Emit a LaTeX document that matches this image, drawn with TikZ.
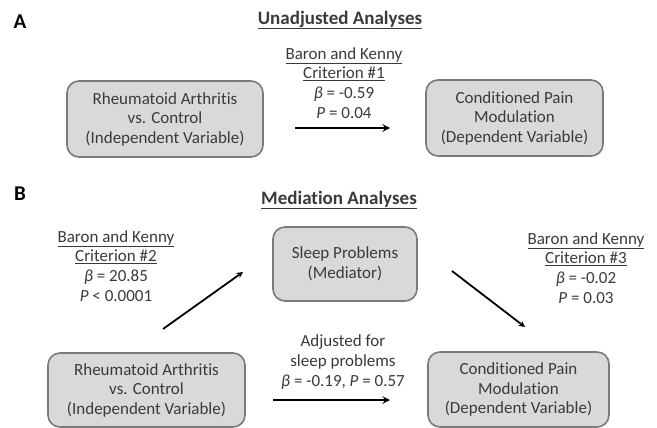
\documentclass[tikz,border=0pt]{standalone}
\usepackage{fontspec}
\setmainfont[Ligatures=NoCommon]{Carlito}
\usepackage{tikz}
\usetikzlibrary{arrows,positioning}
\definecolor{bFill}{HTML}{D9D9D9}
\definecolor{bLine}{HTML}{7A7A7A}
\definecolor{tGray}{HTML}{3A3A3A}
\tikzset{box/.style={draw=bLine, line width=1.6pt, fill=bFill, rounded corners=12pt,
  align=center, inner sep=0pt, text=tGray, font=\fontsize{17}{19.5}\selectfont}}
\tikzset{txt/.style={align=center, inner sep=0pt, text=tGray,
  font=\fontsize{17}{19.8}\selectfont}}
\tikzset{hd/.style={inner sep=0pt, text=tGray, font=\bfseries\fontsize{19}{21}\selectfont}}
\tikzset{pl/.style={inner sep=0pt, text=black, font=\bfseries\fontsize{21}{23}\selectfont}}
\tikzset{ar/.style={draw, line width=2.3pt, -stealth}}
\tikzset{ard/.style={draw, line width=1.8pt, -stealth}}

\begin{document}
\begin{tikzpicture}[x=1pt, y=-1pt]
            \useasboundingbox (0,0) rectangle (657,428);
            %% panel A
            \node (A) at (20,22) [pl] {A};
            \node (hA) at (340,20) [hd] {\underline{Unadjusted Analyses}};
            \node (ra1) at (165,119) [box, minimum width=196pt, minimum height=76pt]
                {Rheumatoid Arthritis\\vs. Control\\(Independent Variable)};
            \node (cpm1) at (514.5,118) [box, minimum width=177pt, minimum height=76pt]
                {Conditioned Pain\\Modulation\\(Dependent Variable)};
            \node (c1) at (344,83) [txt]
                {\underline{Baron and Kenny}\\\underline{Criterion \#1}\\\textit{β} = -0.59\\\textit{P} = 0.04};
            \coordinate (a1s) at (295,128);
            \coordinate (a1e) at (390,128);
            \draw [ar] (a1s) to (a1e);
            %% panel B
            \node (B) at (20,194) [pl] {B};
            \node (hB) at (339,200) [hd] {\underline{Mediation Analyses}};
            \node (sleep) at (345,264) [box, minimum width=144pt, minimum height=74pt]
                {Sleep Problems\\(Mediator)};
            \node (ra2) at (146.5,390) [box, minimum width=197pt, minimum height=74pt]
                {Rheumatoid Arthritis\\vs. Control\\(Independent Variable)};
            \node (cpm2) at (518.5,389.5) [box, minimum width=181pt, minimum height=75pt]
                {Conditioned Pain\\Modulation\\(Dependent Variable)};
            \node (c2) at (116,266) [txt]
                {\underline{Baron and Kenny}\\\underline{Criterion \#2}\\\textit{β} = 20.85\\\textit{P} < 0.0001};
            \node (c3) at (586,268) [txt]
                {\underline{Baron and Kenny}\\\underline{Criterion \#3}\\\textit{β} = -0.02\\\textit{P} = 0.03};
            \node (adj) at (343,362) [txt]
                {Adjusted for\\sleep problems\\\textit{β} = -0.19, \textit{P} = 0.57};
            \coordinate (b1s) at (163,329);
            \coordinate (b1e) at (243,272);
            \coordinate (b2s) at (452,271);
            \coordinate (b2e) at (525,327);
            \coordinate (b3s) at (273,400);
            \coordinate (b3e) at (390,400);
            \draw [ard] (b1s) to (b1e);
            \draw [ard] (b2s) to (b2e);
            \draw [ar] (b3s) to (b3e);
\end{tikzpicture}
\end{document}
